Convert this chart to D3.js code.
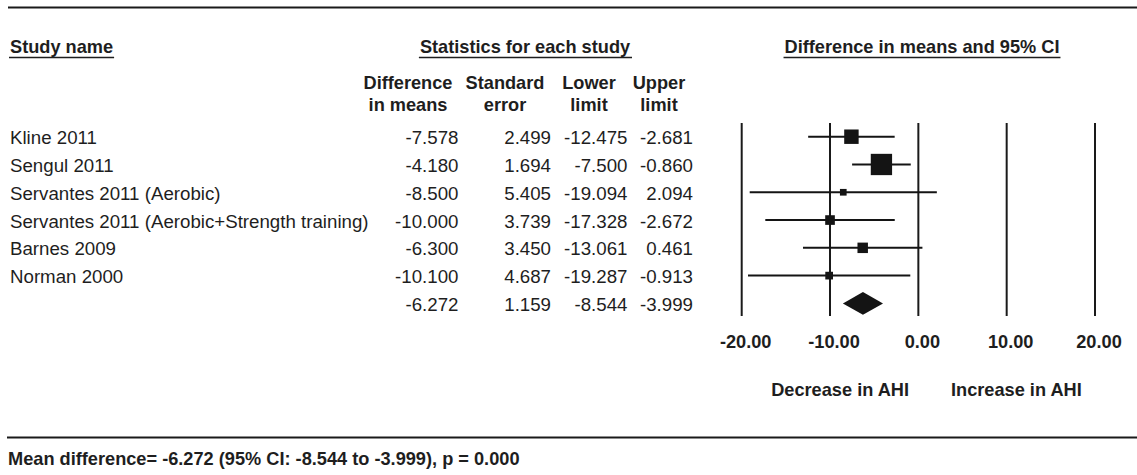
<!DOCTYPE html>
<html>
<head>
<meta charset="utf-8">
<script src="https://cdn.jsdelivr.net/npm/d3@7"></script>
<style>
    body { margin: 0; background: #fff; }
    text { font-family: "Liberation Sans", Arial, Helvetica, sans-serif; fill: #1e1e1e; }
    .bold { font-weight: bold; }
</style>
</head>
<body>
<svg id="chart" width="1137" height="475"></svg>
<script>
"use strict";

// 研究数据
var studyNames = ["Kline 2011", "Sengul 2011", "Servantes 2011 (Aerobic)",
    "Servantes 2011 (Aerobic+Strength training)", "Barnes 2009", "Norman 2000"];
var diffMeans = [-7.578, -4.180, -8.500, -10.000, -6.300, -10.100];
var stdErrors = [2.499, 1.694, 5.405, 3.739, 3.450, 4.687];
var lowerLimits = [-12.475, -7.500, -19.094, -17.328, -13.061, -19.287];
var upperLimits = [-2.681, -0.860, 2.094, -2.672, 0.461, -0.913];

// 合并效应: 均值, 标准误, 下限, 上限
var summaryValues = [-6.272, 1.159, -8.544, -3.999];

var tickValues = [-20, -10, 0, 10, 20];
var footerText = "Mean difference= -6.272 (95% CI: -8.544 to -3.999), p = 0.000";

var svg = d3.select("#chart");
var W = 1137;

var fontSize = 18.7;
var boldSize = 18.2;

//使用普通连字符作负号
var locale = d3.formatLocale({decimal: ".", thousands: ",", grouping: [3], currency: ["", ""], minus: "-"});
var fmt3 = locale.format(".3f");
var fmt2 = locale.format(".2f");

//x轴比例尺 (森林图)
var x = d3.scaleLinear().domain([-20, 20]).range([741.7, 1095]);
//行位置
var y = d3.scalePoint().domain(d3.range(studyNames.length + 1)).range([136.7, 303.4]);
//方块大小 (权重 = 1/SE^2)
var weights = stdErrors.map(function(s){ return 1 / (s * s); });
var boxSize = d3.scaleSqrt().domain([0, d3.max(weights)]).range([0, 21.3]);

var textShift = 7.5;  //文字基线相对行中心

//上下分隔线
svg.append("line").attr("x1", 8).attr("x2", W).attr("y1", 7.5).attr("y2", 7.5)
    .attr("stroke", "#1a1a1a").attr("stroke-width", 2);
svg.append("line").attr("x1", 7).attr("x2", W).attr("y1", 437.5).attr("y2", 437.5)
    .attr("stroke", "#1a1a1a").attr("stroke-width", 2);

/**
 * 带下划线的标题
 */
function underlinedTitle(label, xPos, anchor){
    var t = svg.append("text")
        .attr("class", "bold")
        .attr("x", xPos)
        .attr("y", 53)
        .attr("text-anchor", anchor)
        .attr("font-size", boldSize)
        .text(label);
    var bb = t.node().getBBox();
    svg.append("line")
        .attr("x1", bb.x - 1).attr("x2", bb.x + bb.width + 1)
        .attr("y1", 57.5).attr("y2", 57.5)
        .attr("stroke", "#1e1e1e").attr("stroke-width", 1.4);
}

underlinedTitle("Study name", 10, "start");
underlinedTitle("Statistics for each study", 525, "middle");
underlinedTitle("Difference in means and 95% CI", 922, "middle");

//列标题
var colHeaders = [
    {x: 408, lines: ["Difference", "in means"]},
    {x: 505, lines: ["Standard", "error"]},
    {x: 589, lines: ["Lower", "limit"]},
    {x: 659, lines: ["Upper", "limit"]}
];
colHeaders.forEach(function(h){
    h.lines.forEach(function(l, i){
        svg.append("text")
            .attr("class", "bold")
            .attr("x", h.x)
            .attr("y", 89 + i * 22.3)
            .attr("text-anchor", "middle")
            .attr("font-size", boldSize)
            .text(l);
    });
});

//研究名称
svg.selectAll(".studyName")
    .data(studyNames)
    .enter()
    .append("text")
    .attr("class", "studyName")
    .attr("x", 10)
    .attr("y", function(d, i){ return y(i) + textShift; })
    .attr("font-size", fontSize)
    .text(function(d){ return d; });

//数值列 (右对齐)
var colRight = [458.5, 551, 627.5, 693];
var rows = d3.range(studyNames.length).map(function(i){
    return [diffMeans[i], stdErrors[i], lowerLimits[i], upperLimits[i]];
});
rows.push(summaryValues);

rows.forEach(function(r, i){
    r.forEach(function(v, j){
        svg.append("text")
            .attr("x", colRight[j])
            .attr("y", y(i) + textShift)
            .attr("text-anchor", "end")
            .attr("font-size", fontSize)
            .text(fmt3(v));
    });
});

//竖直网格线
var plotTop = 123, plotBottom = 316;
svg.selectAll(".vLine")
    .data(tickValues)
    .enter()
    .append("line")
    .attr("class", "vLine")
    .attr("x1", function(d){ return x(d); })
    .attr("x2", function(d){ return x(d); })
    .attr("y1", plotTop)
    .attr("y2", plotBottom)
    .attr("stroke", "#1a1a1a")
    .attr("stroke-width", 2);

//刻度标签
svg.selectAll(".tickLabel")
    .data(tickValues)
    .enter()
    .append("text")
    .attr("class", "bold tickLabel")
    .attr("x", function(d){ return x(d) + 4; })
    .attr("y", 348)
    .attr("text-anchor", "middle")
    .attr("font-size", boldSize)
    .text(function(d){ return fmt2(d); });

//置信区间线
svg.selectAll(".ciLine")
    .data(rows.slice(0, studyNames.length))
    .enter()
    .append("line")
    .attr("class", "ciLine")
    .attr("x1", function(d){ return x(d[2]); })
    .attr("x2", function(d){ return x(d[3]); })
    .attr("y1", function(d, i){ return y(i); })
    .attr("y2", function(d, i){ return y(i); })
    .attr("stroke", "#141414")
    .attr("stroke-width", 2);

//效应量方块
svg.selectAll(".box")
    .data(weights)
    .enter()
    .append("rect")
    .attr("class", "box")
    .attr("x", function(d, i){ return x(diffMeans[i]) - boxSize(d) / 2; })
    .attr("y", function(d, i){ return y(i) - boxSize(d) / 2; })
    .attr("width", function(d){ return boxSize(d); })
    .attr("height", function(d){ return boxSize(d); })
    .attr("fill", "#141414");

//合并效应菱形
var sy = y(studyNames.length);
var dh = 11.3;
svg.append("path")
    .attr("d", "M" + x(summaryValues[2]) + "," + sy +
        "L" + x(summaryValues[0]) + "," + (sy - dh) +
        "L" + x(summaryValues[3]) + "," + sy +
        "L" + x(summaryValues[0]) + "," + (sy + dh) + "Z")
    .attr("fill", "#141414");

//方向说明
svg.append("text").attr("class", "bold")
    .attr("x", 909).attr("y", 396)
    .attr("text-anchor", "end")
    .attr("font-size", boldSize)
    .text("Decrease in AHI");
svg.append("text").attr("class", "bold")
    .attr("x", 951).attr("y", 396)
    .attr("text-anchor", "start")
    .attr("font-size", boldSize)
    .text("Increase in AHI");

//底部说明
svg.append("text").attr("class", "bold")
    .attr("x", 8).attr("y", 465)
    .attr("font-size", boldSize)
    .text(footerText);
</script>
</body>
</html>
